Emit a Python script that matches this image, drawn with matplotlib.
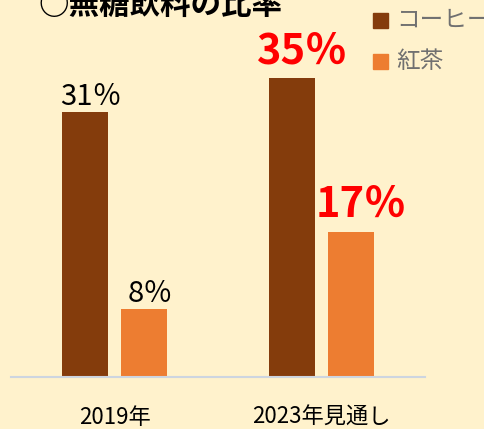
import numpy as np
import matplotlib.pyplot as plt
from matplotlib.patches import Rectangle

plt.rcParams['font.family'] = ['Noto Sans CJK JP', 'DejaVu Sans']

categories = ['2019年', '2023年見通し']
coffee = [31, 35]
tea = [8, 17]
coffee_labels = ['31％', '35％']
tea_labels = ['8％', '17％']
series_names = ['コーヒー', '紅茶']

bg = '#FFF2CC'
c_coffee = '#843C0C'
c_tea = '#ED7D31'

W, H = 484, 429
fig = plt.figure(figsize=(W / 100, H / 100), dpi=100, facecolor=bg)
ax = fig.add_axes([11 / W, 52 / H, 414 / W, 377 / H])
ax.set_facecolor(bg)

x = np.arange(len(categories))
bw = 0.222
off = 0.1425
ax.bar(x - off, coffee, bw, color=c_coffee)
ax.bar(x + off, tea, bw, color=c_tea)

ax.set_xlim(-0.5, 1.5)
ax.set_ylim(0, 377 / 8.55)

# value labels: first group plain black, second group big red
for i in range(len(categories)):
    if i == 0:
        kw = dict(fontsize=21, color='black')
        dx, dy = 0.03, 0
    else:
        kw = dict(fontsize=30, color='#FF0000', fontweight='bold')
        dx, dy = 0.05, 4
    ax.annotate(coffee_labels[i], (x[i] - off + dx, coffee[i]), xytext=(0, dy),
                textcoords='offset points', ha='center', va='bottom', **kw)
    ax.annotate(tea_labels[i], (x[i] + off + dx, tea[i]), xytext=(0, dy),
                textcoords='offset points', ha='center', va='bottom', **kw)

for s in ['top', 'right', 'left']:
    ax.spines[s].set_visible(False)
ax.spines['bottom'].set_color('#CDD5E0')
ax.spines['bottom'].set_linewidth(1.5)
ax.set_yticks([])
ax.set_xticks(x)
ax.set_xticklabels(categories, fontsize=16)
ax.tick_params(axis='x', length=0, pad=21)

# title (partly cut off at the top)
fig.text(38 / W, 1 - 5 / H, '○無糖飲料の比率', fontsize=22, fontweight='bold',
         ha='left', va='center')

# legend
for k, (name, col) in enumerate(zip(series_names, [c_coffee, c_tea])):
    y0 = 13 + k * 41
    fig.add_artist(Rectangle((373 / W, 1 - (y0 + 15) / H), 15 / W, 15 / H,
                             transform=fig.transFigure, color=col))
    fig.text(396 / W, 1 - (y0 + 7.5) / H, name, fontsize=17, color='#707070',
             ha='left', va='center')

fig.savefig('out.png', dpi=100, facecolor=bg)
